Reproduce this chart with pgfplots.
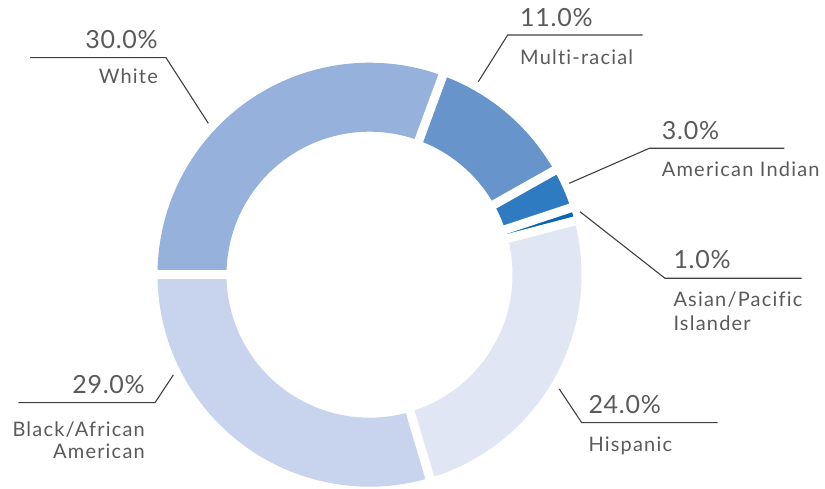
\documentclass[border=0pt]{standalone}
\usepackage{fontspec}
\setmainfont{Lato}
\newfontfamily\pctfont[LetterSpace=3]{Lato}
\newfontfamily\labfont[LetterSpace=6,Ligatures=NoCommon]{Lato}
\usepackage{pgfplots}
\pgfplotsset{compat=1.18}
\definecolor{cW}{HTML}{96B1DC}
\definecolor{cM}{HTML}{6794CB}
\definecolor{cA}{HTML}{2E7BC1}
\definecolor{cP}{HTML}{0A66B5}
\definecolor{cH}{HTML}{E0E6F4}
\definecolor{cB}{HTML}{C8D4EE}
\definecolor{txt}{HTML}{5A5A5A}
\definecolor{ln}{HTML}{404040}
% percentages (sum 98)
\def\vW{30}\def\vM{11}\def\vA{3}\def\vP{1}\def\vH{24}\def\vB{29}
\begin{document}
\begin{tikzpicture}
\pgfmathsetmacro{\tot}{\vW+\vM+\vA+\vP+\vH+\vB}
\pgfmathsetmacro{\cA}{0}
\pgfmathsetmacro{\cB}{\cA+\vW}
\pgfmathsetmacro{\cC}{\cB+\vM}
\pgfmathsetmacro{\cD}{\cC+\vA}
\pgfmathsetmacro{\cE}{\cD+\vP}
\pgfmathsetmacro{\cF}{\cE+\vH}
\pgfmathsetmacro{\cG}{\cF+\vB}
\pgfmathsetmacro{\aA}{180-\cA/\tot*360}
\pgfmathsetmacro{\aB}{180-\cB/\tot*360}
\pgfmathsetmacro{\aC}{180-\cC/\tot*360}
\pgfmathsetmacro{\aD}{180-\cD/\tot*360}
\pgfmathsetmacro{\aE}{180-\cE/\tot*360}
\pgfmathsetmacro{\aF}{180-\cF/\tot*360}
\pgfmathsetmacro{\aG}{180-\cG/\tot*360}
\def\CX{369.5}\def\CY{214.3}\def\RM{177.5}
\begin{axis}[x=1pt,y=1pt,xmin=0,xmax=825,ymin=0,ymax=489,hide axis,clip=false,scale only axis,
  every axis plot/.append style={no markers}]
\addplot[cW, line width=69pt, domain=\aB:\aA, samples=90, variable=\t] ({\CX+\RM*cos(\t)},{\CY+\RM*sin(\t)});
\addplot[cM, line width=69pt, domain=\aC:\aB, samples=40, variable=\t] ({\CX+\RM*cos(\t)},{\CY+\RM*sin(\t)});
\addplot[cA, line width=69pt, domain=\aD:\aC, samples=15, variable=\t] ({\CX+\RM*cos(\t)},{\CY+\RM*sin(\t)});
\addplot[cP, line width=69pt, domain=\aE:\aD, samples=8, variable=\t] ({\CX+\RM*cos(\t)},{\CY+\RM*sin(\t)});
\addplot[cH, line width=69pt, domain=\aF:\aE, samples=80, variable=\t] ({\CX+\RM*cos(\t)},{\CY+\RM*sin(\t)});
\addplot[cB, line width=69pt, domain=\aG:\aF, samples=90, variable=\t] ({\CX+\RM*cos(\t)},{\CY+\RM*sin(\t)});
% white separators
\foreach \ang in {\aA,\aB,\aC,\aD,\aE,\aF}{
  \edef\tmp{\noexpand\addplot[white, line width=9pt, domain=130:225, samples=2, variable=\noexpand\r] ({\CX+\noexpand\r*cos(\ang)},{\CY+\noexpand\r*sin(\ang)});}
  \tmp
}
% leader lines
\addplot[ln, line width=1.1pt] coordinates {(30,431.3) (166,431.3) (208.3,365.7)};
\addplot[ln, line width=1.1pt] coordinates {(642.7,454) (507.7,454) (478.3,407.3)};
\addplot[ln, line width=1.1pt] coordinates {(784.3,340.7) (649.3,340.7) (569.3,305.7)};
\addplot[ln, line width=1.1pt] coordinates {(801.7,210.7) (665,210.7) (580,277.3)};
\addplot[ln, line width=1.1pt] coordinates {(717.7,66.3) (581.7,66.3) (559.3,100)};
\addplot[ln, line width=1.1pt] coordinates {(18.3,86.3) (155,86.3) (173.3,114)};
% labels
\tikzset{pct/.style={font=\pctfont\fontsize{25}{29}\selectfont, text=txt, inner sep=0pt},
         lab/.style={font=\labfont\fontsize{20}{21.7}\selectfont, text=txt, inner sep=0pt}}
\node[pct, anchor=base east] at (axis cs:158,440.7) {30.0\%};
\node[lab, anchor=base east] at (axis cs:158,405.7) {White};
\node[pct, anchor=base west] at (axis cs:520,462.3) {11.0\%};
\node[lab, anchor=base west] at (axis cs:520,424) {Multi-racial};
\node[pct, anchor=base west] at (axis cs:661.7,349) {3.0\%};
\node[lab, anchor=base west] at (axis cs:661.7,312.3) {American Indian};
\node[pct, anchor=base west] at (axis cs:673.3,220.7) {1.0\%};
\node[lab, anchor=base west] at (axis cs:673.3,182.3) {Asian/Pacific};
\node[lab, anchor=base west] at (axis cs:673.3,158.3) {Islander};
\node[pct, anchor=base west] at (axis cs:588.3,75.7) {24.0\%};
\node[lab, anchor=base west] at (axis cs:588.3,37.3) {Hispanic};
\node[pct, anchor=base east] at (axis cs:145,95.7) {29.0\%};
\node[lab, anchor=base east] at (axis cs:145,52.3) {Black/African};
\node[lab, anchor=base east] at (axis cs:145,30.7) {American};
\end{axis}
\pgfresetboundingbox
\path (current axis.south west) rectangle (current axis.north east);
\end{tikzpicture}
\end{document}
